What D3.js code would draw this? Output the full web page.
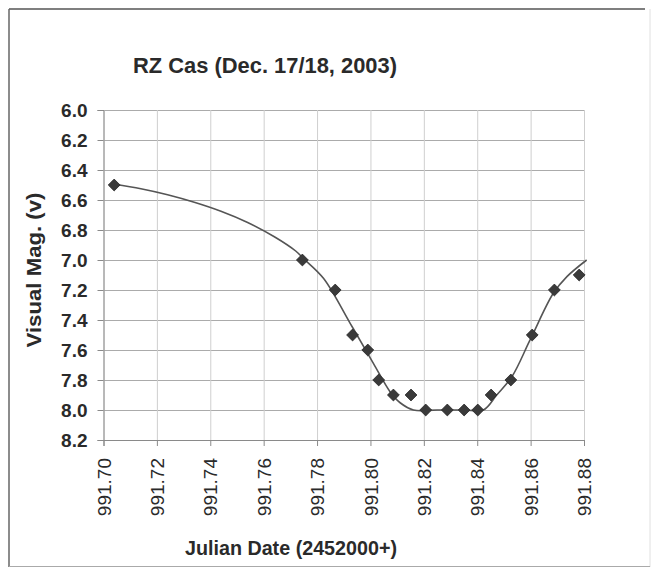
<!DOCTYPE html>
<html>
<head>
<meta charset="utf-8">
<script src="https://cdn.jsdelivr.net/npm/d3@7"></script>
<style>
  html, body { margin: 0; padding: 0; background: #ffffff; }
  svg { display: block; }
  text { font-family: "Liberation Sans", Arial, sans-serif; fill: #2a2a2a; }
</style>
</head>
<body>
<svg id="chart" width="660" height="569"></svg>
<script>
// ---- data ----
const titleText = "RZ Cas (Dec. 17/18, 2003)";
const xTitle = "Julian Date (2452000+)";
const yTitle = "Visual Mag. (v)";

// observations (diamond markers)
const obsJD  = [991.7040, 991.7745, 991.7868, 991.7933, 991.7990, 991.8031, 991.8086, 991.8152,
                991.8207, 991.8288, 991.8351, 991.8402, 991.8452, 991.8526, 991.8606, 991.8689, 991.8782];
const obsMag = [6.5, 7.0, 7.2, 7.5, 7.6, 7.8, 7.9, 7.9,
                8.0, 8.0, 8.0, 8.0, 7.9, 7.8, 7.5, 7.2, 7.1];

// fitted light curve (smooth line, no markers)
const curveJD  = [991.7040, 991.7140, 991.7240, 991.7340, 991.7440, 991.7540, 991.7640, 991.7720,
                  991.7749, 991.7824, 991.7924, 991.8011, 991.8074, 991.8110, 991.8161, 991.8250,
                  991.8350, 991.8423, 991.8473, 991.8530, 991.8598, 991.8685, 991.8736, 991.8810];
const curveMag = [6.495, 6.525, 6.565, 6.615, 6.675, 6.750, 6.845, 6.940,
                  6.990, 7.122, 7.422, 7.689, 7.880, 7.950, 8.0, 8.0,
                  8.0, 8.0, 7.9, 7.778, 7.533, 7.222, 7.111, 7.0];

const xTicks = [991.70, 991.72, 991.74, 991.76, 991.78, 991.80, 991.82, 991.84, 991.86, 991.88];
const yTicks = [6.0, 6.2, 6.4, 6.6, 6.8, 7.0, 7.2, 7.4, 7.6, 7.8, 8.0, 8.2];

// ---- layout ----
const svg = d3.select("#chart");
const plot = { left: 103.5, right: 584, top: 110, bottom: 440 };

const x = d3.scaleLinear().domain([991.70, 991.88]).range([plot.left, plot.right]);
const y = d3.scaleLinear().domain([6.0, 8.2]).range([plot.top, plot.bottom]);

// outer frame
svg.append("rect").attr("x", 0).attr("y", 0).attr("width", 660).attr("height", 569).attr("fill", "#ffffff");
svg.append("line").attr("x1", 9).attr("y1", 9).attr("x2", 645).attr("y2", 9).attr("stroke", "#555").attr("stroke-width", 1.5);
svg.append("line").attr("x1", 9).attr("y1", 9).attr("x2", 9).attr("y2", 567).attr("stroke", "#666").attr("stroke-width", 1.5);
svg.append("line").attr("x1", 650).attr("y1", 9).attr("x2", 650).attr("y2", 567).attr("stroke", "#e0e0e0").attr("stroke-width", 1);
svg.append("line").attr("x1", 9).attr("y1", 566.5).attr("x2", 650).attr("y2", 566.5).attr("stroke", "#aaa").attr("stroke-width", 1);

// gridlines
const gridH = svg.append("g")
  .attr("transform", `translate(${plot.left},0)`)
  .call(d3.axisLeft(y).tickValues(yTicks).tickSize(-(plot.right - plot.left)).tickFormat(""));
gridH.select(".domain").remove();
gridH.selectAll(".tick line").attr("stroke", "#ababab").attr("stroke-width", 1);

const gridV = svg.append("g")
  .attr("transform", `translate(0,${plot.bottom})`)
  .call(d3.axisBottom(x).tickValues(xTicks).tickSize(-(plot.bottom - plot.top)).tickFormat(""));
gridV.select(".domain").remove();
gridV.selectAll(".tick line").attr("stroke", "#cfcfcf").attr("stroke-width", 1);

// y axis
const yAxis = svg.append("g")
  .attr("transform", `translate(${plot.left},0)`)
  .call(d3.axisLeft(y).tickValues(yTicks).tickSize(6).tickPadding(10).tickFormat(d3.format(".1f")));
yAxis.select(".domain").attr("stroke", "#8a8a8a");
yAxis.selectAll(".tick line").attr("stroke", "#8a8a8a");
yAxis.selectAll(".tick text")
  .style("font-size", "19px").style("font-weight", "bold").attr("fill", "#2a2a2a");

// x axis
const xAxis = svg.append("g")
  .attr("transform", `translate(0,${plot.bottom})`)
  .call(d3.axisBottom(x).tickValues(xTicks).tickSize(6).tickFormat(d3.format(".2f")));
xAxis.select(".domain").attr("stroke", "#8a8a8a");
xAxis.selectAll(".tick line").attr("stroke", "#8a8a8a");
xAxis.selectAll(".tick text")
  .attr("transform", "translate(0,18) rotate(-90)")
  .attr("x", 0).attr("y", 0).attr("dy", "0.35em")
  .attr("text-anchor", "end")
  .style("font-size", "19px").attr("fill", "#2a2a2a");

// fitted curve
const line = d3.line()
  .x(d => x(d[0]))
  .y(d => y(d[1]))
  .curve(d3.curveCatmullRom.alpha(0.5));
svg.append("path")
  .datum(curveJD.map((j, i) => [j, curveMag[i]]))
  .attr("d", line)
  .attr("fill", "none")
  .attr("stroke", "#555")
  .attr("stroke-width", 1.6);

// observation markers
const diamond = d3.symbol().type(d3.symbolSquare).size(70);
svg.append("g").selectAll("path")
  .data(obsJD.map((j, i) => [j, obsMag[i]]))
  .join("path")
  .attr("d", diamond)
  .attr("transform", d => `translate(${x(d[0])},${y(d[1])}) rotate(45)`)
  .attr("fill", "#3a3a3a")
  .attr("stroke", "#2a2a2a")
  .attr("stroke-width", 0.8);

// titles
svg.append("text").attr("x", 265).attr("y", 73).attr("text-anchor", "middle")
  .attr("textLength", 264).attr("lengthAdjust", "spacingAndGlyphs")
  .style("font-size", "22px").style("font-weight", "bold").text(titleText);
svg.append("text").attr("x", 291).attr("y", 555).attr("text-anchor", "middle")
  .attr("textLength", 212).attr("lengthAdjust", "spacingAndGlyphs")
  .style("font-size", "20px").style("font-weight", "bold").text(xTitle);
svg.append("text").attr("transform", "translate(41,270) rotate(-90)").attr("text-anchor", "middle")
  .attr("textLength", 155).attr("lengthAdjust", "spacingAndGlyphs")
  .style("font-size", "21px").style("font-weight", "bold").text(yTitle);
</script>
</body>
</html>
